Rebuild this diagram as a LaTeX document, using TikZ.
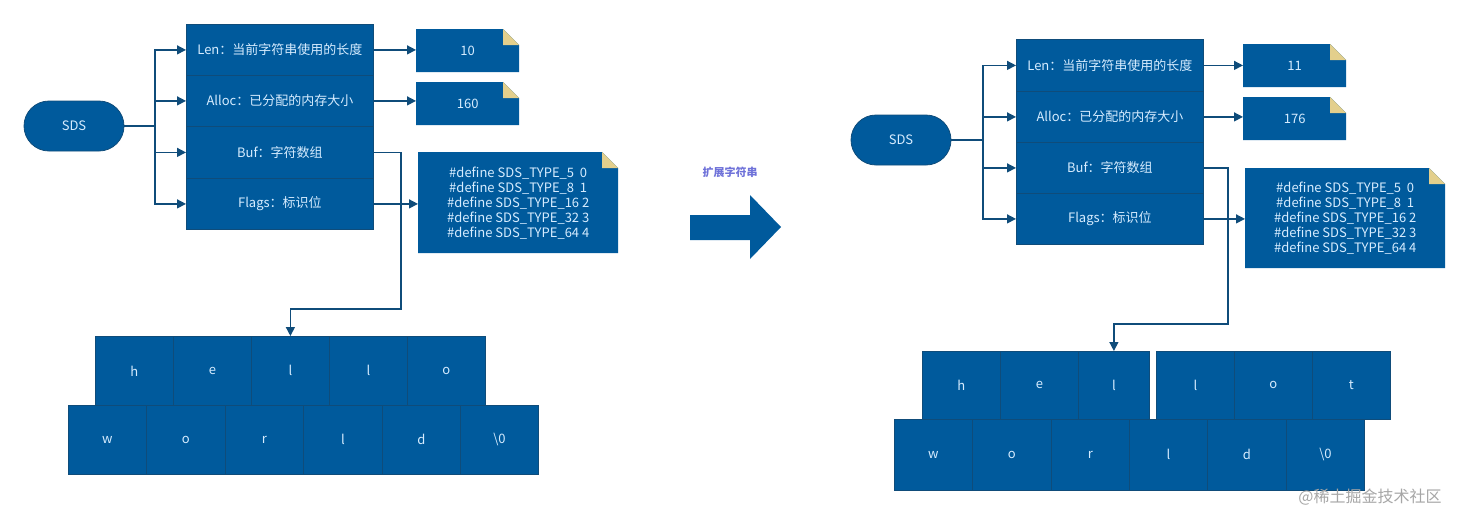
\documentclass[tikz,border=0pt]{standalone}
\usepackage{fontspec}
\setmainfont{Noto Sans CJK SC}
\usetikzlibrary{arrows.meta,calc,shapes.misc}
\definecolor{bfill}{HTML}{005A9C}
\definecolor{bline}{HTML}{0F4C7A}
\definecolor{btext}{HTML}{D6ECFF}
\definecolor{fold}{HTML}{E3CF8C}
\definecolor{lbl}{HTML}{6F72D9}
\tikzset{
  box/.style={draw=bline,fill=bfill,line width=0.8pt,text=btext,anchor=north west,inner sep=0pt,font=\fontsize{13}{15}\selectfont},
  sds/.style={draw=bline,fill=bfill,line width=0.8pt,text=btext,rounded rectangle,inner sep=0pt,minimum width=100,minimum height=50,font=\fontsize{13}{15}\selectfont},
  arr/.style={draw=bline,line width=1.4pt,-{Triangle[length=9pt,width=9pt]}},
  ln/.style={draw=bline,line width=1.4pt},
  notearea/.style={anchor=north west,inner sep=0pt,text=btext,font=\fontsize{13}{15}\selectfont,align=center},
}
\newcommand{\cell}[6]{\node[box,minimum width=#4-#2,minimum height=#5-#3] (#1) at (#2,#3) {#6};}
\newcommand{\notebx}[6]{%
  \fill[bfill] (#2,#3) -- (#4-16,#3) -- (#4,#3+16) -- (#4,#5) -- (#2,#5) -- cycle;
  \fill[fold] (#4-16,#3) -- (#4-16,#3+16) -- (#4,#3+16) -- cycle;
  \node[notearea,minimum width=#4-#2,minimum height=#5-#3] (#1) at (#2,#3) {#6};}
\begin{document}
\begin{tikzpicture}[x=1pt,y=-1pt]
\useasboundingbox (0,0) rectangle (1470,515);
% ---------- left ----------
\node[sds] (sdsL) at (74,126) {SDS};
\cell{lenL}{186}{24}{373}{75}{Len：当前字符串使用的长度}
\cell{allocL}{186}{75}{373}{126}{Alloc：已分配的内存大小}
\cell{bufL}{186}{126}{373}{178}{Buf：字符数组}
\cell{flagsL}{186}{178}{373}{229}{Flags：标识位}
\notebx{n10}{416}{29}{519}{72}{10}
\notebx{n160}{416}{82}{519}{125}{160}
\notebx{defL}{418}{152}{618}{253}{\#define SDS\_TYPE\_5\ \ 0\\\#define SDS\_TYPE\_8\ \ 1\\\#define SDS\_TYPE\_16 2\\\#define SDS\_TYPE\_32 3\\\#define SDS\_TYPE\_64 4}
\cell{hL}{95}{336}{173}{405}{h}
\cell{eL}{173}{336}{251}{405}{e}
\cell{l1L}{251}{336}{329}{405}{l}
\cell{l2L}{329}{336}{407}{405}{l}
\cell{oL}{407}{336}{485}{405}{o}
\cell{wL}{68}{405}{146}{474}{w}
\cell{o2L}{146}{405}{225}{474}{o}
\cell{rL}{225}{405}{303}{474}{r}
\cell{l3L}{303}{405}{382}{474}{l}
\cell{dL}{382}{405}{460}{474}{d}
\cell{zL}{460}{405}{538}{474}{\textbackslash 0}
\coordinate (brL) at (155,126);
\draw[ln] (sdsL.east) -- (brL);
\draw[arr] (brL) |- (lenL.west);
\draw[arr] (brL) |- (allocL.west);
\draw[arr] (brL) |- (bufL.west);
\draw[arr] (brL) |- (flagsL.west);
\draw[arr] (lenL.east) -- (lenL.east -| n10.west);
\draw[arr] (allocL.east) -- (allocL.east -| n160.west);
\draw[arr] (flagsL.east) -- (flagsL.east -| defL.west);
\coordinate (bendL) at (401,309);
\draw[arr] (bufL.east) -| (bendL) -| (l1L.north);
% ---------- middle arrow ----------
\fill[bfill] (690,215) -- (750,215) -- (750,195) -- (781,227) -- (750,259) -- (750,240) -- (690,240) -- cycle;
\node[text=lbl,font=\bfseries\fontsize{11}{13}\selectfont] (lab) at (730,172) {扩展字符串};
% ---------- right ----------
\node[sds] (sdsR) at (901,140) {SDS};
\cell{lenR}{1016}{39}{1203}{91}{Len：当前字符串使用的长度}
\cell{allocR}{1016}{91}{1203}{142}{Alloc：已分配的内存大小}
\cell{bufR}{1016}{142}{1203}{193}{Buf：字符数组}
\cell{flagsR}{1016}{193}{1203}{244}{Flags：标识位}
\notebx{n11}{1243}{44}{1346}{87}{11}
\notebx{n176}{1243}{97}{1346}{140}{176}
\notebx{defR}{1245}{168}{1445}{268}{\#define SDS\_TYPE\_5\ \ 0\\\#define SDS\_TYPE\_8\ \ 1\\\#define SDS\_TYPE\_16 2\\\#define SDS\_TYPE\_32 3\\\#define SDS\_TYPE\_64 4}
\cell{hR}{922}{351}{1000}{419}{h}
\cell{eR}{1000}{351}{1078}{419}{e}
\cell{l1R}{1078}{351}{1149}{419}{l}
\cell{l2R}{1156}{351}{1234}{419}{l}
\cell{oR}{1234}{351}{1312}{419}{o}
\cell{tR}{1312}{351}{1390}{419}{t}
\cell{wR}{894}{419}{972}{490}{w}
\cell{o2R}{972}{419}{1051}{490}{o}
\cell{rR}{1051}{419}{1129}{490}{r}
\cell{l3R}{1129}{419}{1207}{490}{l}
\cell{dR}{1207}{419}{1286}{490}{d}
\cell{zR}{1286}{419}{1364}{490}{\textbackslash 0}
\coordinate (brR) at (983,140);
\draw[ln] (sdsR.east) -- (brR);
\draw[arr] (brR) |- (lenR.west);
\draw[arr] (brR) |- (allocR.west);
\draw[arr] (brR) |- (bufR.west);
\draw[arr] (brR) |- (flagsR.west);
\draw[arr] (lenR.east) -- (lenR.east -| n11.west);
\draw[arr] (allocR.east) -- (allocR.east -| n176.west);
\draw[arr] (flagsR.east) -- (flagsR.east -| defR.west);
\coordinate (bendR) at (1228,324);
\draw[arr] (bufR.east) -| (bendR) -| (l1R.north);
\node[text=black!35,font=\fontsize{16}{18}\selectfont] (wm) at (1370,497) {@稀土掘金技术社区};
\end{tikzpicture}
\end{document}
